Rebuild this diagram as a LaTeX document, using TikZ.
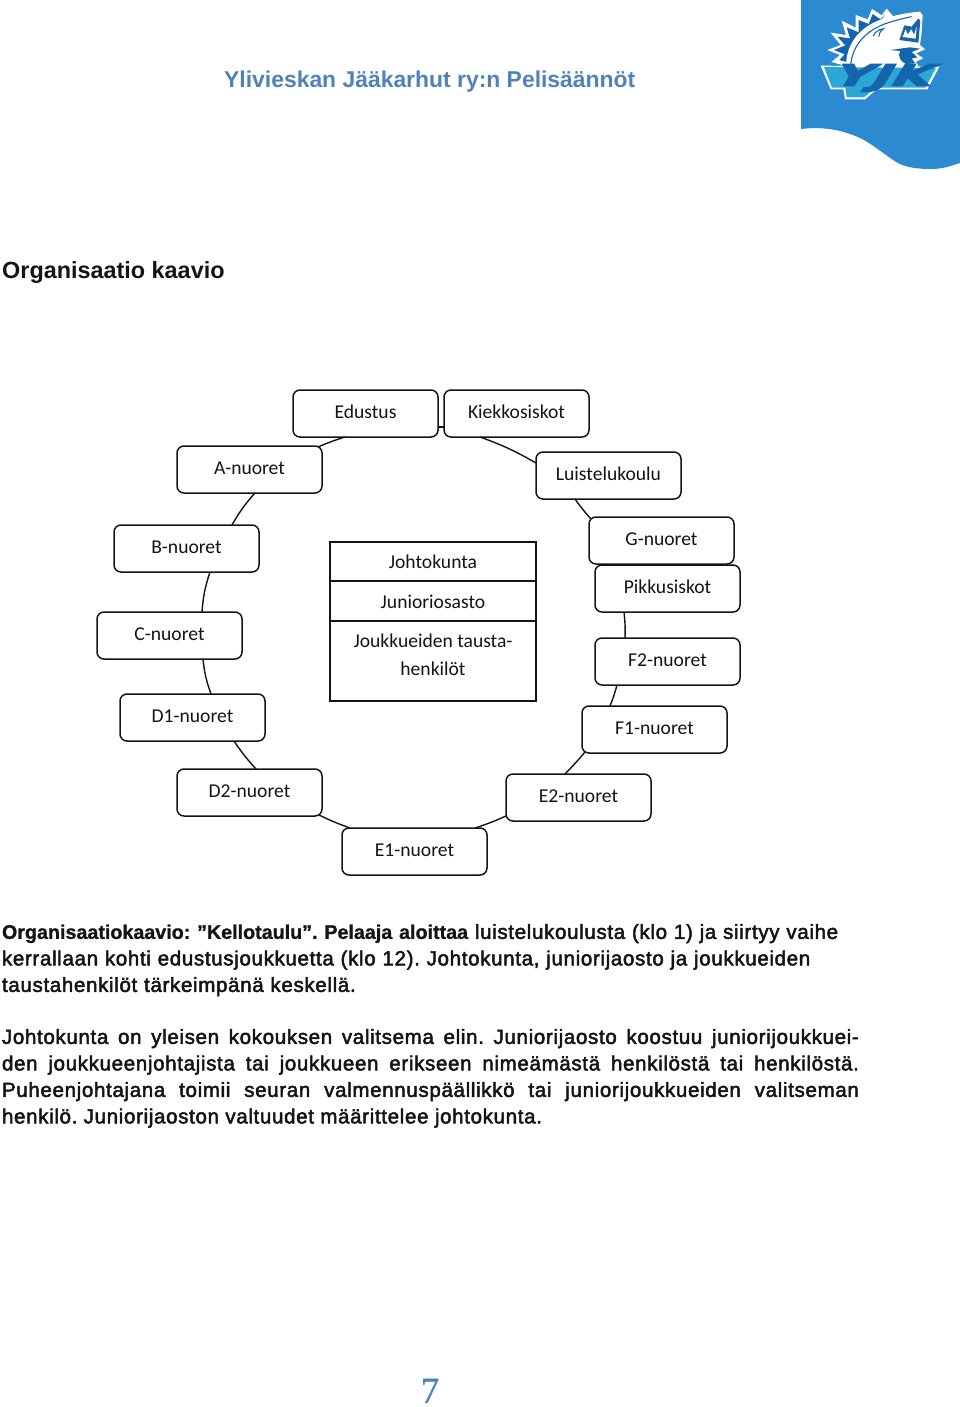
\documentclass[tikz,border=0pt]{standalone}
\usepackage{fontspec}
\setmainfont{Liberation Sans}
\newfontfamily\boxfont{Carlito}
\newfontfamily\serifnum[FakeBold=0.5]{Liberation Serif}
\newfontfamily\bodyfont[FakeBold=2.4,LetterSpace=3.3]{Liberation Sans}
\newfontfamily\leadfont[BoldFont={Liberation Sans Bold},BoldFeatures={FakeBold=1}]{Liberation Sans}
\newfontfamily\logofont[BoldFont={DejaVu Sans Bold},BoldFeatures={FakeSlant=0.35,FakeBold=3}]{DejaVu Sans}
\usetikzlibrary{calc}
\definecolor{cornerblue}{HTML}{2C8BD0}
\definecolor{headblue}{HTML}{5082B8}
\definecolor{logodark}{HTML}{1565AE}
\definecolor{logocyan}{HTML}{2BA8D6}
\definecolor{ink}{HTML}{141414}
\tikzset{
  orgbox/.style={draw=ink,line width=1.5pt,rounded corners=7pt,minimum width=145pt,minimum height=47pt,
    inner sep=0pt,outer sep=0pt,fill=white,font=\boxfont\fontsize{19.6}{22}\selectfont,text=ink,text height=13pt,text depth=4pt},
  cell/.style={draw=ink,line width=1.5pt,minimum width=206pt,inner sep=0pt,outer sep=0pt,fill=white,
    font=\boxfont\fontsize{19.6}{28}\selectfont,text=ink},
  link/.style={draw=ink,line width=1.4pt},
  para/.style={anchor=north west,inner sep=0pt,outer sep=0pt,text=ink,font=\bodyfont\fontsize{20.5}{26.5}\selectfont}
}
\begin{document}
\frenchspacing
\begin{tikzpicture}[x=1pt,y=-1pt]
\useasboundingbox (0,0) rectangle (960,1407);
% corner
\fill[cornerblue] (801,0) -- (960,0) -- (960,163) .. controls (945,168) and (940,169) .. (930,169)
  .. controls (910,169) and (900,165) .. (893,160) .. controls (880,151) and (872,144) .. (860,138)
  .. controls (845,131) and (825,126) .. (801,129) -- cycle;
% logo
\begin{scope}[shift={(810,0)},scale=1/3]
  \fill[white] (250,50) -- (230,26) -- (215,46) -- (186,27) -- (173,58) -- (137,45) -- (137,83) -- (95,62) -- (108,105)
    -- (62,98) -- (92,135) -- (52,150) -- (90,165) -- (64,186) -- (115,200) -- (180,120) -- cycle;
  \fill[logodark] (225,42) -- (214,60) -- (188,42) -- (176,72) -- (146,60) -- (146,97) -- (110,82) -- (120,115)
    -- (82,110) -- (106,136) -- (72,150) -- (104,163) -- (88,180) -- (118,188) -- (170,110) -- cycle;
  \fill[white] (108,200) .. controls (108,130) and (150,80) .. (215,58) .. controls (255,45) and (295,38) .. (330,35)
    -- (338,46) -- (335,95) -- (330,135) -- (345,148) -- (318,160) -- (340,175) -- (318,185) -- (325,198) -- (285,205) -- cycle;
  \draw[logodark,line width=1.1pt] (122,198) .. controls (125,140) and (165,90) .. (235,68) .. controls (260,60) and (280,55) .. (305,50);
  \draw[logodark,line width=1.1pt] (190,108) .. controls (195,95) and (205,90) .. (220,86) .. controls (212,94) and (207,98) .. (207,110);
  \fill[logodark] (283,76) -- (305,80) -- (325,55) -- (331,62) -- (325,128) -- (268,120) -- cycle;
  \fill[white] (287,88) -- (293,104) -- (304,88) -- (312,104) -- (320,80) -- (317,116) -- (278,111) -- cycle;
  \fill[logodark] (240,150) -- (300,142) -- (330,146) -- (305,156) -- (322,172) -- (305,176) -- (316,190) -- (288,192) .. controls (272,185) and (262,170) .. (270,153) -- cycle;
  \fill[white] (32,197) -- (388,200) -- (352,268) -- (200,268) -- (165,298) -- (105,298) -- (100,268) -- (62,268) -- cycle;
  \fill[logocyan] (42,201) -- (378,204) -- (346,263) -- (198,263) -- (162,292) -- (110,292) -- (106,263) -- (66,263) -- cycle;
\end{scope}
\node[font=\logofont\bfseries\fontsize{30}{30}\selectfont,text=logodark,xscale=1.75,transform shape,inner sep=0pt] (logotext) at (879,78) {YJK};
% header, title, number
\node[anchor=base west,inner sep=0pt,text=headblue,font=\bfseries\fontsize{22.9}{26}\selectfont] (header) at (224,88) {Ylivieskan Jääkarhut ry:n Pelisäännöt};
\node[anchor=base west,inner sep=0pt,text=ink,font=\bfseries\fontsize{23.4}{26}\selectfont] (title) at (2,278) {Organisaatio kaavio};
\node[anchor=base,inner sep=0pt,text=headblue,font=\serifnum\fontsize{37}{40}\selectfont] (pagenum) at (430,1403) {7};
% boxes
\node[orgbox] (edustus) at (365.5,413.5) {Edustus};
\node[orgbox] (kiekko) at (516.5,413.5) {Kiekkosiskot};
\node[orgbox] (luistelu) at (608.5,475.5) {Luistelukoulu};
\node[orgbox] (g) at (661.5,540.5) {G-nuoret};
\node[orgbox] (pikku) at (667.5,588.5) {Pikkusiskot};
\node[orgbox] (f2) at (667.5,661.5) {F2-nuoret};
\node[orgbox] (f1) at (654.5,729.5) {F1-nuoret};
\node[orgbox] (e2) at (578.5,797.5) {E2-nuoret};
\node[orgbox] (e1) at (414.5,851.5) {E1-nuoret};
\node[orgbox] (d2) at (249.5,792.5) {D2-nuoret};
\node[orgbox] (d1) at (192.5,717.5) {D1-nuoret};
\node[orgbox] (c) at (169.5,635.5) {C-nuoret};
\node[orgbox] (b) at (186.5,548.5) {B-nuoret};
\node[orgbox] (a) at (249.5,469.5) {A-nuoret};
% connectors
\path[link] ([xshift=52pt]edustus.south west) to[bend right=3] ([xshift=-4pt,yshift=-1pt]a.north east);
\path[link] ([xshift=78pt]a.south west) to[bend right=6] ([xshift=118pt]b.north west);
\path[link] ([xshift=96pt]b.south west) to[bend right=7] ([xshift=105pt]c.north west);
\path[link] ([xshift=106pt]c.south west) to[bend right=7] ([xshift=91pt]d1.north west);
\path[link] ([xshift=114pt]d1.south west) to[bend right=4] ([xshift=79pt]d2.north west);
\path[link] ([xshift=-3pt,yshift=1pt]d2.south east) to[bend right=3] ([xshift=8pt]e1.north west);
\path[link] ([xshift=-12pt]e1.north east) to[bend right=3] ([yshift=5pt]e2.south west);
\path[link] ([xshift=59pt]e2.north west) to[bend right=2] ([xshift=3pt,yshift=1pt]f1.south west);
\path[link] ([xshift=28pt]f1.north west) to[bend right=3] ([xshift=22pt]f2.south west);
\path[link] ([xshift=29pt]pikku.south west) to[bend left=4] ([xshift=30pt]f2.north west);
\path[link] ([xshift=39pt]luistelu.south west) to[bend right=3] ([xshift=2pt,yshift=-2pt]g.north west);
\path[link] ([yshift=-11pt]luistelu.north west) to[bend right=5] ([xshift=36pt]kiekko.south west);
\path[link] ([yshift=10pt]kiekko.south west) -- ([yshift=10pt]edustus.south east);
% table
\node[cell,minimum height=39.5pt,text height=18pt,text depth=3.5pt] (johto) at (433,561.5) {Johtokunta};
\node[cell,minimum height=40pt,text height=17.5pt,text depth=3.5pt] (junior) at (433,601) {Junioriosasto};
\node[cell,minimum height=80pt,align=center] (tausta) at (433,661) {Joukkueiden tausta-\\henkilöt\\[-16pt]\mbox{}};
% text
\node[para,align=left,text width=900pt] (p1) at (2,924) {{\leadfont\bfseries\fontsize{19.7}{26.5}\selectfont Organisaatiokaavio: ”Kellotaulu”. Pelaaja aloittaa} luistelukoulusta (klo 1) ja siirtyy vaihe\\
kerrallaan kohti edustusjoukkuetta (klo 12). Johtokunta, juniorijaosto ja joukkueiden\\
taustahenkilöt tärkeimpänä keskellä.};
\node[para,align=justify,text width=857pt] (p2) at (2,1029) {Johtokunta on yleisen kokouksen valitsema elin. Juniorijaosto koostuu juniorijoukkuei-\linebreak
den joukkueenjohtajista tai joukkueen erikseen nimeämästä henkilöstä tai henkilöstä.\linebreak
Puheenjohtajana toimii seuran valmennuspäällikkö tai juniorijoukkueiden valitseman\linebreak
henkilö. Juniorijaoston valtuudet määrittelee johtokunta.};
\end{tikzpicture}
\end{document}
